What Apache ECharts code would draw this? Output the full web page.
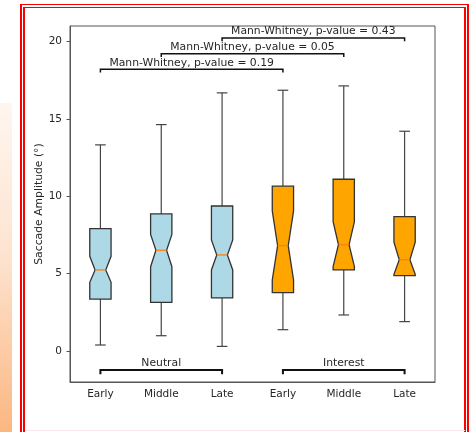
<!DOCTYPE html>
<html>
<head>
<meta charset="utf-8">
<script src="https://cdn.jsdelivr.net/npm/echarts@6/dist/echarts.min.js"></script>
<style>
html,body{margin:0;padding:0;background:#fff;}
body{width:473px;height:432px;overflow:hidden;position:relative;}
#grad{position:absolute;left:0;top:103px;width:12px;height:340px;background:linear-gradient(to bottom,#fff6ef 0%,#fde3cf 45%,#fbb47c 100%);}
#frame{position:absolute;left:20px;top:4px;width:439px;height:460px;border-style:double;border-color:#ff0000;border-width:4px 5px 5px 5px;}
#pink{position:absolute;left:25px;top:430px;width:440px;height:1px;background:#f8e6ec;}
#chart{position:absolute;left:0;top:0;width:473px;height:432px;}
</style>
</head>
<body>
<div id="grad"></div>
<div id="frame"></div>
<div id="pink"></div>
<div id="chart"></div>
<script>
// ---- data ----
const categories = ['Early', 'Middle', 'Late', 'Early', 'Middle', 'Late'];
const whiskerLow  = [0.39, 0.99, 0.30, 1.38, 2.33, 1.90];
const q1Values    = [3.36, 3.15, 3.43, 3.77, 5.24, 4.87];
const notchLow    = [4.44, 5.45, 5.24, 4.59, 5.45, 4.96];
const medians     = [5.24, 6.51, 6.21, 6.81, 6.87, 5.90];
const notchHigh   = [6.12, 7.54, 7.18, 9.05, 8.36, 7.03];
const q3Values    = [7.91, 8.86, 9.37, 10.65, 11.10, 8.68];
const whiskerHigh = [13.32, 14.63, 16.68, 16.85, 17.13, 14.20];
const boxColors   = ['#add8e6', '#add8e6', '#add8e6', '#ffa500', '#ffa500', '#ffa500'];

const compareFrom   = [0, 1, 2];
const compareTo     = [3, 4, 5];
const compareY      = [18.2, 19.2, 20.22];
const compareLabels = ['Mann-Whitney, p-value = 0.19', 'Mann-Whitney, p-value = 0.05', 'Mann-Whitney, p-value = 0.43'];

const groupNames = ['Neutral', 'Interest'];
const groupFrom  = [0, 3];
const groupTo    = [2, 5];
const groupY     = [-1.23, -1.23];

const yTicks = [0, 5, 10, 15, 20];

// ---- build ----
const boxData = categories.map((c, i) => [i, whiskerLow[i], q1Values[i], notchLow[i], medians[i], notchHigh[i], q3Values[i], whiskerHigh[i]]);
const bracketData = compareFrom.map((f, i) => [f, compareTo[i], compareY[i], i, 0]);
const groupData = groupFrom.map((f, i) => [f, groupTo[i], groupY[i], i, 1]);

const FONT = '10.8px "DejaVu Sans"';
const TEXT = '#262626';
const EDGE = '#333';

const chart = echarts.init(document.getElementById('chart'), null, {renderer: 'canvas'});
chart.setOption({
  animation: false,
  backgroundColor: 'transparent',
  textStyle: {fontFamily: 'DejaVu Sans'},
  grid: {left: 70, right: 38, top: 26, bottom: 50, show: true, borderColor: '#555', borderWidth: 1, backgroundColor: 'transparent'},
  xAxis: {
    type: 'category',
    data: categories,
    boundaryGap: true,
    axisLine: {onZero: false, lineStyle: {color: '#555', width: 1}},
    axisTick: {alignWithLabel: true, length: 3.5, lineStyle: {color: '#555'}},
    axisLabel: {color: TEXT, fontSize: 10.5, fontFamily: 'DejaVu Sans', margin: 7, interval: 0},
    splitLine: {show: false}
  },
  yAxis: {
    type: 'value',
    min: -2, max: 21,
    name: 'Saccade Amplitude (°)',
    nameLocation: 'middle',
    nameGap: 25,
    nameMoveOverlap: false,
    nameRotate: 90,
    nameTextStyle: {color: TEXT, fontSize: 10.8, fontFamily: 'DejaVu Sans'},
    axisLine: {show: true, onZero: false, lineStyle: {color: '#555', width: 1}},
    axisTick: {show: true, length: 3.5, lineStyle: {color: '#555'}, customValues: yTicks},
    axisLabel: {color: TEXT, fontSize: 10.5, fontFamily: 'DejaVu Sans', margin: 8, customValues: yTicks},
    splitLine: {show: false}
  },
  series: [
    {
      type: 'custom',
      clip: false,
      data: boxData,
      encode: {x: 0, y: [1, 2, 3, 4, 5, 6, 7]},
      renderItem: function (params, api) {
        const i = api.value(0);
        const p = (v) => api.coord([i, v]);
        const x = p(0)[0];
        const w = api.size([1, 0])[0] * 0.175;
        const yLo = p(api.value(1))[1];
        const yQ1 = p(api.value(2))[1];
        const yNL = p(api.value(3))[1];
        const yMed = p(api.value(4))[1];
        const yNH = p(api.value(5))[1];
        const yQ3 = p(api.value(6))[1];
        const yHi = p(api.value(7))[1];
        const pts = [
          [x - w, yQ3], [x + w, yQ3], [x + w, yNH], [x + w / 2, yMed], [x + w, yNL],
          [x + w, yQ1], [x - w, yQ1], [x - w, yNL], [x - w / 2, yMed], [x - w, yNH]
        ];
        const ls = {stroke: '#444', lineWidth: 1.2};
        return {
          type: 'group',
          children: [
            {type: 'line', shape: {x1: x, y1: yQ1, x2: x, y2: yLo}, style: ls},
            {type: 'line', shape: {x1: x, y1: yQ3, x2: x, y2: yHi}, style: ls},
            {type: 'line', shape: {x1: x - w / 2, y1: yLo, x2: x + w / 2, y2: yLo}, style: ls},
            {type: 'line', shape: {x1: x - w / 2, y1: yHi, x2: x + w / 2, y2: yHi}, style: ls},
            {type: 'polygon', shape: {points: pts}, style: {fill: boxColors[i], stroke: EDGE, lineWidth: 1.3}},
            {type: 'line', shape: {x1: x - w / 2, y1: yMed, x2: x + w / 2, y2: yMed}, style: {stroke: '#ff7f0e', lineWidth: 1.3}}
          ]
        };
      }
    },
    {
      type: 'custom',
      clip: false,
      data: bracketData.concat(groupData),
      encode: {x: [0, 1], y: 2},
      renderItem: function (params, api) {
        const a = api.value(0), b = api.value(1), yv = api.value(2), k = api.value(3), kind = api.value(4);
        const drop = kind === 0 ? 0.2 : 0.27;
        const p1 = api.coord([a, yv]);
        const p2 = api.coord([b, yv]);
        const p1d = api.coord([a, yv - drop]);
        const p2d = api.coord([b, yv - drop]);
        const label = kind === 0 ? compareLabels[k] : groupNames[k];
        return {
          type: 'group',
          children: [
            {type: 'polyline', shape: {points: [[p1d[0], p1d[1]], [p1[0], p1[1]], [p2[0], p2[1]], [p2d[0], p2d[1]]]},
             style: {stroke: '#111', lineWidth: kind === 0 ? 1.5 : 2, fill: null}},
            {type: 'text', x: (p1[0] + p2[0]) / 2, y: p1[1] - 6.5,
             style: {text: label, font: FONT, fill: TEXT, align: 'center', verticalAlign: 'middle'}}
          ]
        };
      }
    }
  ]
});
</script>
</body>
</html>
